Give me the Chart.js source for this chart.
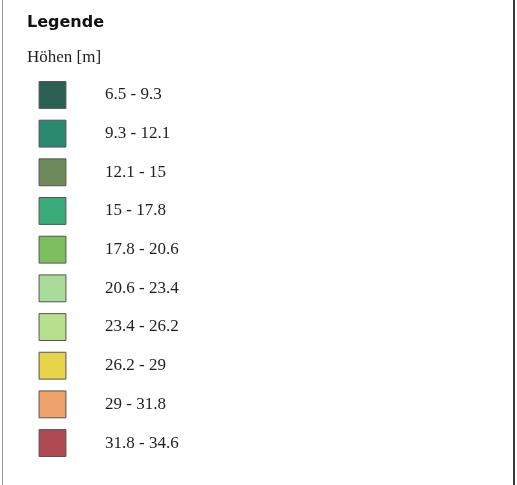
<!DOCTYPE html>
<html>
<head>
<meta charset="utf-8">
<script src="https://cdn.jsdelivr.net/npm/chart.js@4/dist/chart.umd.min.js"></script>
<style>
  html, body { margin: 0; padding: 0; background: #fff; }
  #frame {
    position: absolute; left: 2px; top: 0; width: 510px; height: 485px;
    border-left: 1px solid #9a9a9a; border-right: 2px solid #3a3a3a;
  }
  #legend { display: block; }
</style>
</head>
<body>
<div id="frame"><canvas id="legend" width="510" height="485"></canvas></div>
<script>
// Höhenklassen (untere / obere Grenze in m) und Farben
const lowerBounds = [6.5, 9.3, 12.1, 15, 17.8, 20.6, 23.4, 26.2, 29, 31.8];
const upperBounds = [9.3, 12.1, 15, 17.8, 20.6, 23.4, 26.2, 29, 31.8, 34.6];
const classColors = ['#2b5f51', '#2a8a6f', '#6f8a5a', '#3bab79', '#7dbf5f',
                     '#a9dc99', '#b6e08b', '#e7d44b', '#eea36b', '#af4a52'];

const classLabels = lowerBounds.map((lo, i) => `${lo} - ${upperBounds[i]}`);

const canvas = document.getElementById('legend');
new Chart(canvas, {
  type: 'scatter',
  data: {
    datasets: [{
      data: classLabels.map((label) => ({ x: 0, y: label })),
      pointStyle: 'rect',
      pointRadius: 19,
      pointHoverRadius: 19,
      pointBackgroundColor: classColors,
      pointBorderColor: '#555',
      pointBorderWidth: 1,
      clip: false
    }]
  },
  options: {
    responsive: false,
    animation: false,
    events: [],
    layout: { autoPadding: false, padding: { left: 24, top: 0, right: 0, bottom: 22.6 } },
    plugins: {
      legend: { display: false },
      tooltip: { enabled: false },
      title: {
        display: true,
        text: 'Legende',
        align: 'start',
        color: '#111',
        font: { family: 'DejaVu Sans', size: 16, weight: 'bold' },
        padding: { top: 13, bottom: 0 }
      },
      subtitle: {
        display: true,
        text: 'Höhen [m]',
        align: 'start',
        color: '#1e1e1e',
        font: { family: 'Liberation Serif', size: 17 },
        padding: { top: 15, bottom: 8 }
      }
    },
    scales: {
      // swatches sit at x = 0, one third into the narrow plot strip
      x: { type: 'linear', display: false, min: -1, max: 2 },
      y: {
        type: 'category',
        labels: classLabels,
        position: 'right',
        offset: true,
        grid: { display: false, drawTicks: false },
        border: { display: false },
        ticks: {
          color: '#1e1e1e',
          padding: 1.5,
          font: { family: 'Liberation Serif', size: 17 }
        },
        afterFit(scale) { scale.width = 409.5; }
      }
    }
  }
});
</script>
</body>
</html>
